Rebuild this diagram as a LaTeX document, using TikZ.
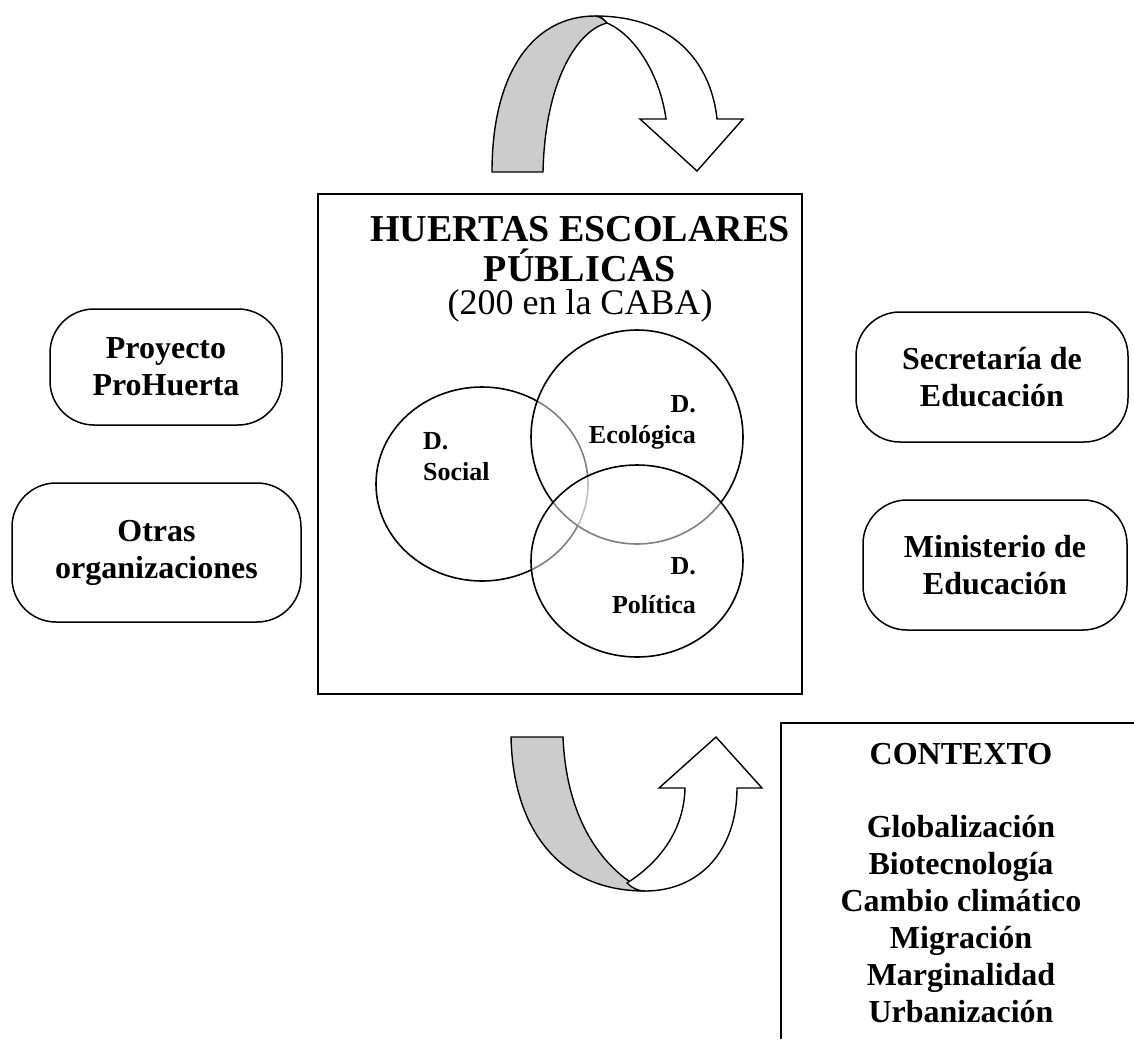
\documentclass[tikz,border=0pt]{standalone}
\usepackage{fontspec}
\setmainfont{Liberation Serif}
\usepackage{xcolor}
\definecolor{sombra}{RGB}{204,204,204}
\definecolor{linea}{RGB}{0,0,0}

\tikzset{
    actor/.style={draw=linea, line width=1.5pt, rounded corners=44pt, align=center, inner sep=0pt,
                  font=\fontsize{32}{37}\selectfont\bfseries},
    esfera/.style={draw=linea, line width=1.6pt},
    flecha/.style={draw=linea, line width=1.4pt, line join=miter},
    rotulo/.style={inner sep=0pt, font=\fontsize{26}{31}\selectfont\bfseries}
}

\begin{document}
\begin{tikzpicture}[x=1pt, y=-1pt]
    % Rahmen
    \useasboundingbox (0,0) rectangle (1134,1039);

    % Flecha de arriba
    \fill[sombra, flecha] (492,172) .. controls (492,70) and (535,16) .. (595,16)
        .. controls (600,16) and (604,19) .. (607,23)
        .. controls (578,30) and (545,80) .. (543,172) -- cycle;
    \fill[white, flecha] (595,16) .. controls (680,16) and (712,70) .. (717,119)
        -- (743,119) -- (697,171) -- (640,119) -- (666,119)
        .. controls (660,75) and (635,35) .. (607,23)
        .. controls (604,19) and (600,16) .. (595,16) -- cycle;

    % Caja principal
    \node[draw=linea, line width=2pt, minimum width=484pt, minimum height=500pt] (huertas) at (560,444) {};
    \node[anchor=base, font=\fontsize{38}{40}\selectfont\bfseries] (titulo1) at (580,241) {HUERTAS ESCOLARES};
    \node[anchor=base, font=\fontsize{38}{40}\selectfont\bfseries] (titulo2) at (580,281) {PÚBLICAS};
    \node[anchor=base, font=\fontsize{36}{40}\selectfont] (titulo3) at (580,314) {(200 en la CABA)};

    % Dimensiones
    \draw[esfera, fill=white] (482,484) ellipse [x radius=106pt, y radius=97pt];
    \fill[white, fill opacity=0.5] (637,437) ellipse [x radius=106pt, y radius=107pt];
    \draw[esfera] (637,437) ellipse [x radius=106pt, y radius=107pt];
    \fill[white, fill opacity=0.5] (637,561) ellipse [x radius=106pt, y radius=96pt];
    \draw[esfera] (637,561) ellipse [x radius=106pt, y radius=96pt];

    \node[rotulo, anchor=north west, align=left] (social) at (423,432) {D.\\Social};
    \node[rotulo, anchor=north east, align=right] (ecologica) at (696,395) {D.\\Ecológica};
    \node[rotulo, anchor=north east, align=right] (politica) at (696,557) {D.\\[8pt]Política};

    % Actores
    \node[actor, minimum width=232pt, minimum height=116pt] (prohuerta) at (166,367) {Proyecto\\ProHuerta};
    \node[actor, minimum width=289pt, minimum height=139pt] (otras) at (156.5,552.5) {Otras\\organizaciones};
    \node[actor, minimum width=272pt, minimum height=130pt] (secretaria) at (992,377) {Secretaría de\\Educación};
    \node[actor, minimum width=264pt, minimum height=130pt] (ministerio) at (995,565) {Ministerio de\\Educación};

    % Flecha de abajo
    \fill[sombra, flecha] (511,737) -- (563,737) .. controls (566,810) and (595,865) .. (645,891)
        .. controls (560,891) and (513,830) .. (511,737) -- cycle;
    \fill[white, flecha] (627,883) .. controls (660,862) and (684,830) .. (685,788)
        -- (659,788) -- (716,737) -- (762,788) -- (737,788)
        .. controls (737,850) and (700,891) .. (645,891)
        .. controls (638,891) and (632,888) .. (627,883) -- cycle;

    % Contexto
    \draw[linea, line width=2pt] (1134,723) -- (781,723) -- (781,1039);
    \node[anchor=north, inner sep=0pt, align=center, font=\fontsize{32}{37}\selectfont\bfseries] (contexto) at (961,743)
        {CONTEXTO\\[36pt]Globalización\\Biotecnología\\Cambio climático\\Migración\\Marginalidad\\Urbanización};
\end{tikzpicture}
\end{document}
